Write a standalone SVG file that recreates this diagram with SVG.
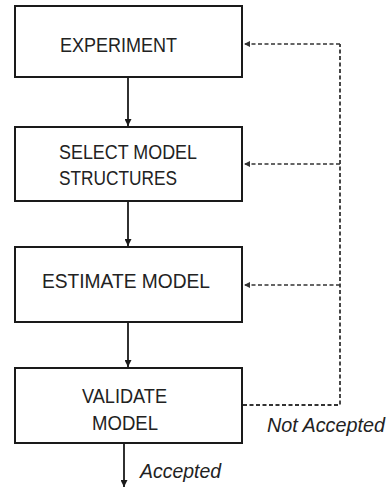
<svg xmlns="http://www.w3.org/2000/svg" width="387" height="488" viewBox="0 0 387 488">
<defs>
<marker id="ah" viewBox="0 0 10 10" refX="10" refY="5" markerWidth="7" markerHeight="7" markerUnits="userSpaceOnUse" orient="auto">
<path d="M0,0 L10,5 L0,10 z" fill="#1a1a1a"/>
</marker>
<marker id="ahs" viewBox="0 0 10 10" refX="10" refY="5" markerWidth="6" markerHeight="6" markerUnits="userSpaceOnUse" orient="auto">
<path d="M0,0 L10,5 L0,10 z" fill="#333"/>
</marker>
</defs>
<style>
.box{fill:#fff;stroke:#1a1a1a;stroke-width:2}
.t{font-family:"Liberation Sans","Open Sans",sans-serif;font-size:20px;fill:#222}
.i{font-family:"Liberation Sans","Open Sans",sans-serif;font-size:20px;font-style:italic;fill:#222}
.solid{stroke:#1a1a1a;stroke-width:1.8;fill:none}
.dash{stroke:#333;stroke-width:1.4;fill:none;stroke-dasharray:4 2.5}
</style>
<rect width="387" height="488" fill="#fff"/>
<g id="experiment">
<rect class="box" x="15" y="6" width="227" height="71"/>
<text class="t" x="60" y="52" textLength="117" lengthAdjust="spacingAndGlyphs">EXPERIMENT</text>
</g>
<g id="select">
<rect class="box" x="15" y="127" width="227" height="74"/>
<text class="t" x="59" y="159" textLength="138" lengthAdjust="spacingAndGlyphs">SELECT MODEL</text>
<text class="t" x="59" y="185" textLength="118" lengthAdjust="spacingAndGlyphs">STRUCTURES</text>
</g>
<g id="estimate">
<rect class="box" x="15" y="247" width="227" height="75"/>
<text class="t" x="42" y="288" textLength="168" lengthAdjust="spacingAndGlyphs">ESTIMATE  MODEL</text>
</g>
<g id="validate">
<rect class="box" x="15" y="368" width="227" height="75"/>
<text class="t" x="82" y="403" textLength="85" lengthAdjust="spacingAndGlyphs">VALIDATE</text>
<text class="t" x="92" y="430" textLength="66" lengthAdjust="spacingAndGlyphs">MODEL</text>
</g>
<g id="connectors">
<line class="solid" x1="128" y1="77" x2="128" y2="126" marker-end="url(#ah)"/>
<line class="solid" x1="128" y1="201" x2="128" y2="246" marker-end="url(#ah)"/>
<line class="solid" x1="128" y1="322" x2="128" y2="367" marker-end="url(#ah)"/>
<line class="solid" x1="124" y1="443" x2="124" y2="487" marker-end="url(#ah)"/>
<path class="dash" d="M243,405 H340 V44" style="stroke-width:1.8"/>
<line class="dash" x1="340" y1="44" x2="244" y2="44" marker-end="url(#ahs)"/>
<line class="dash" x1="340" y1="164" x2="244" y2="164" marker-end="url(#ahs)"/>
<line class="dash" x1="340" y1="285" x2="244" y2="285" marker-end="url(#ahs)"/>
<text class="i" x="267" y="432" textLength="118" lengthAdjust="spacingAndGlyphs">Not Accepted</text>
<text class="i" x="140" y="478" textLength="81" lengthAdjust="spacingAndGlyphs">Accepted</text>
</g>
</svg>
